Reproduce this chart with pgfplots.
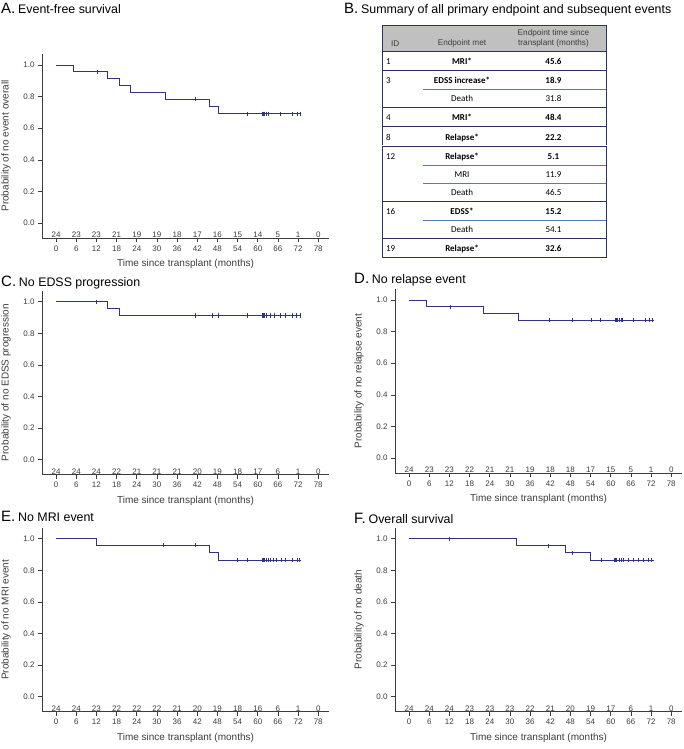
\documentclass[border=0pt]{standalone}
\usepackage[table]{xcolor}
\usepackage{pgfplots}
\pgfplotsset{compat=1.18}
\usepackage{array}
\usepackage{fontspec}
\setmainfont{Liberation Sans}
\newfontfamily\tabfont{Carlito}
\newfontfamily\hdrfont{Liberation Sans}
\definecolor{kmblue}{RGB}{50,50,130}
\definecolor{axgray}{RGB}{60,60,60}
\definecolor{navy}{RGB}{43,52,100}
\definecolor{subblue}{RGB}{90,120,175}
\definecolor{hdr}{RGB}{192,192,192}
\newcommand{\hcell}[2]{\parbox[c][25pt][b]{#1}{\hdrfont\fontsize{8.2}{10}\selectfont\color{axgray}#2\par\vspace{4pt}}}
\pgfplotsset{
  km/.style={
    scale only axis, width=287pt, height=184pt,
    xmin=-4.2, xmax=81.2, ymin=-0.095, ymax=1.07,
    axis lines*=left,
    axis line style={axgray, line width=0.6pt},
    every tick/.style={axgray, line width=0.6pt},
    tick align=outside, major tick length=4pt,
    xtick={0,6,12,18,24,30,36,42,48,54,60,66,72,78},
    ytick={0,0.2,0.4,0.6,0.8,1.0},
    yticklabel style={/pgf/number format/.cd, fixed, fixed zerofill, precision=1},
    /pgf/number format/assume math mode=true,
    ticklabel style={font=\fontsize{8}{9}\selectfont, text=axgray},
    label style={font=\fontsize{10}{12}\selectfont, text=axgray},
    xlabel={Time since transplant (months)},
    xlabel style={at={(axis description cs:0.5,-0.1413)}, anchor=center},
    ylabel style={at={(axis description cs:-0.1254,0.5)}, anchor=center},
    clip=false,
  },
  kmline/.style={const plot, kmblue, line width=0.9pt, mark=none},
  cens/.style={only marks, mark=|, mark size=2pt, kmblue, mark options={line width=0.45pt}},
  risk/.style={draw=none, mark=none, nodes near coords, point meta=explicit symbolic,
    nodes near coords align={center},
    every node near coord/.append style={font=\fontsize{8}{9}\selectfont, text=axgray, inner sep=0pt}},
}
\begin{document}
\begin{tikzpicture}
\path[use as bounding box] (0pt,0pt) rectangle (683pt,-749pt);

% ---------------- Titles ----------------
\node[anchor=base west, inner sep=0pt] at (1pt,-13.3pt) {{\fontsize{15}{15}\selectfont A.}\ {\fontsize{12.4}{14}\selectfont Event-free survival}};
\node[anchor=base west, inner sep=0pt] at (344pt,-13.3pt) {{\fontsize{15}{15}\selectfont B.}\ {\fontsize{12.4}{14}\selectfont Summary of all primary endpoint and subsequent events}};
\node[anchor=base west, inner sep=0pt] at (1pt,-286pt) {{\fontsize{15}{15}\selectfont C.}\ {\fontsize{12.4}{14}\selectfont No EDSS progression}};
\node[anchor=base west, inner sep=0pt] at (354pt,-283.3pt) {{\fontsize{15}{15}\selectfont D.}\ {\fontsize{12.4}{14}\selectfont No relapse event}};
\node[anchor=base west, inner sep=0pt] at (1pt,-521.7pt) {{\fontsize{15}{15}\selectfont E.}\ {\fontsize{12.4}{14}\selectfont No MRI event}};
\node[anchor=base west, inner sep=0pt] at (354pt,-523pt) {{\fontsize{15}{15}\selectfont F.}\ {\fontsize{12.4}{14}\selectfont Overall survival}};

% ---------------- Panel A ----------------
\begin{axis}[km, at={(42pt,-54pt)}, anchor=north west, ylabel={Probability of no event overall}]
\addplot[kmline] coordinates {(0,1) (5.1,0.9583) (15.2,0.9148) (18.9,0.8712) (22.2,0.8277) (32.6,0.7841) (45.6,0.7380) (48.4,0.6919) (73,0.6919)};
\addplot[cens] coordinates {(12.1,0.9583) (41.3,0.7841) (56.9,0.6919) (61.2,0.6919) (61.5,0.6919) (61.8,0.6919) (62.6,0.6919) (63.2,0.6919) (66.6,0.6919) (70.3,0.6919) (71.6,0.6919) (72.5,0.6919)};
\addplot[risk] coordinates {(0,-0.075)[24] (6,-0.075)[23] (12,-0.075)[23] (18,-0.075)[21] (24,-0.075)[19] (30,-0.075)[19] (36,-0.075)[18] (42,-0.075)[17] (48,-0.075)[16] (54,-0.075)[15] (60,-0.075)[14] (66,-0.075)[5] (72,-0.075)[1] (78,-0.075)[0]};
\end{axis}

% ---------------- Panel B (table) ----------------
\node[anchor=north west, inner sep=0pt] at (382pt,-25pt) {%
\tabfont\fontsize{9}{11}\selectfont
\setlength{\tabcolsep}{3pt}\renewcommand{\arraystretch}{1.66}\setlength{\arrayrulewidth}{0.8pt}%
\begin{tabular}{!{\color{navy}\vrule width 0.8pt}p{34pt}>{\centering}p{72pt}>{\centering\arraybackslash}p{99pt}!{\color{navy}\vrule width 0.8pt}}
\arrayrulecolor{navy}\hline
\rowcolor{hdr}\hcell{34pt}{\hspace*{5pt}ID} &
\hcell{72pt}{\centering Endpoint met} &
\hcell{99pt}{\centering Endpoint time since\\ transplant (months)}\\
\hline
1 & \textbf{MRI*} & \textbf{45.6}\\
\hline
3 & \textbf{EDSS increase*} & \textbf{18.9}\\
\arrayrulecolor{subblue}\cline{2-3}
 & Death & 31.8\\
\arrayrulecolor{navy}\hline
4 & \textbf{MRI*} & \textbf{48.4}\\
\hline
8 & \textbf{Relapse*} & \textbf{22.2}\\
\hline
12 & \textbf{Relapse*} & \textbf{5.1}\\
\arrayrulecolor{subblue}\cline{2-3}
 & MRI & 11.9\\
\cline{2-3}
 & Death & 46.5\\
\arrayrulecolor{navy}\hline
16 & \textbf{EDSS*} & \textbf{15.2}\\
\arrayrulecolor{subblue}\cline{2-3}
 & Death & 54.1\\
\arrayrulecolor{navy}\hline
19 & \textbf{Relapse*} & \textbf{32.6}\\
\hline
\end{tabular}};

% ---------------- Panel C ----------------
\begin{axis}[km, at={(42pt,-290.7pt)}, anchor=north west, ylabel={Probability of no EDSS progression}]
\addplot[kmline] coordinates {(0,1) (15.2,0.9565) (18.9,0.9130) (73,0.9130)};
\addplot[cens] coordinates {(11.9,1) (41.3,0.9130) (46.4,0.9130) (48.3,0.9130) (56.9,0.9130) (61.2,0.9130) (61.6,0.9130) (62.0,0.9130) (62.6,0.9130) (63.6,0.9130) (64.8,0.9130) (66.6,0.9130) (68.1,0.9130) (70.4,0.9130) (71.4,0.9130) (72.5,0.9130)};
\addplot[risk] coordinates {(0,-0.075)[24] (6,-0.075)[24] (12,-0.075)[24] (18,-0.075)[22] (24,-0.075)[21] (30,-0.075)[21] (36,-0.075)[21] (42,-0.075)[20] (48,-0.075)[19] (54,-0.075)[18] (60,-0.075)[17] (66,-0.075)[6] (72,-0.075)[1] (78,-0.075)[0]};
\end{axis}

% ---------------- Panel D ----------------
\begin{axis}[km, at={(395pt,-289pt)}, anchor=north west, ylabel={Probability of no relapse event}]
\addplot[kmline] coordinates {(0,1) (5.1,0.9583) (22.2,0.9148) (32.6,0.8712) (73,0.8712)};
\addplot[cens] coordinates {(12.1,0.9583) (41.6,0.8712) (48.5,0.8712) (54.2,0.8712) (57.0,0.8712) (61.2,0.8712) (61.5,0.8712) (61.8,0.8712) (62.6,0.8712) (63.0,0.8712) (63.4,0.8712) (66.6,0.8712) (70.3,0.8712) (71.4,0.8712) (72.3,0.8712)};
\addplot[risk] coordinates {(0,-0.075)[24] (6,-0.075)[23] (12,-0.075)[23] (18,-0.075)[22] (24,-0.075)[21] (30,-0.075)[21] (36,-0.075)[19] (42,-0.075)[18] (48,-0.075)[18] (54,-0.075)[17] (60,-0.075)[15] (66,-0.075)[5] (72,-0.075)[1] (78,-0.075)[0]};
\end{axis}

% ---------------- Panel E ----------------
\begin{axis}[km, at={(42pt,-527.7pt)}, anchor=north west, ylabel={Probability of no MRI event}]
\addplot[kmline] coordinates {(0,1) (11.9,0.9583) (45.6,0.9104) (48.4,0.8625) (73,0.8625)};
\addplot[cens] coordinates {(31.9,0.9583) (41.3,0.9583) (53.9,0.8625) (56.9,0.8625) (61.2,0.8625) (61.6,0.8625) (62.0,0.8625) (62.6,0.8625) (63.1,0.8625) (63.6,0.8625) (64.6,0.8625) (65.6,0.8625) (66.9,0.8625) (68.1,0.8625) (70.4,0.8625) (71.6,0.8625) (72.3,0.8625)};
\addplot[risk] coordinates {(0,-0.075)[24] (6,-0.075)[24] (12,-0.075)[23] (18,-0.075)[22] (24,-0.075)[22] (30,-0.075)[22] (36,-0.075)[21] (42,-0.075)[20] (48,-0.075)[19] (54,-0.075)[18] (60,-0.075)[16] (66,-0.075)[6] (72,-0.075)[1] (78,-0.075)[0]};
\end{axis}

% ---------------- Panel F ----------------
\begin{axis}[km, at={(395pt,-527.7pt)}, anchor=north west, ylabel={Probability of no death}]
\addplot[kmline] coordinates {(0,1) (31.8,0.9565) (46.5,0.9110) (54.1,0.8630) (72.8,0.8630)};
\addplot[cens] coordinates {(11.9,1) (41.5,0.9565) (48.4,0.9110) (57.2,0.8630) (61.1,0.8630) (61.4,0.8630) (61.6,0.8630) (62.6,0.8630) (63.1,0.8630) (63.6,0.8630) (65.1,0.8630) (66.6,0.8630) (68.1,0.8630) (69.6,0.8630) (71.1,0.8630) (72.1,0.8630)};
\addplot[risk] coordinates {(0,-0.075)[24] (6,-0.075)[24] (12,-0.075)[24] (18,-0.075)[23] (24,-0.075)[23] (30,-0.075)[23] (36,-0.075)[22] (42,-0.075)[21] (48,-0.075)[20] (54,-0.075)[19] (60,-0.075)[17] (66,-0.075)[6] (72,-0.075)[1] (78,-0.075)[0]};
\end{axis}
\end{tikzpicture}
\end{document}
